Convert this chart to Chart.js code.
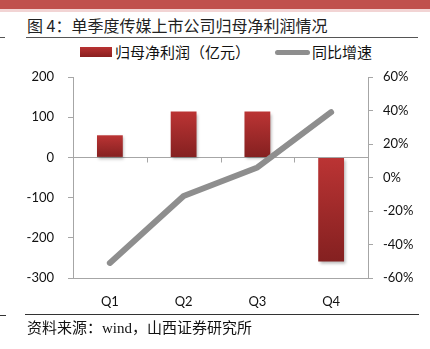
<!DOCTYPE html>
<html>
<head>
<meta charset="utf-8">
<script src="https://cdn.jsdelivr.net/npm/chart.js@4"></script>
<style>
  html, body { margin: 0; padding: 0; background: #fff; }
  #wrap { position: relative; width: 430px; height: 349px; overflow: hidden; background: #fff; }
  canvas { position: absolute; left: 0; top: 0; }
  .abs { position: absolute; white-space: nowrap; }
  .cjk { font-family: "Noto Sans CJK SC", "Noto Sans", sans-serif; color: #111; }
</style>
</head>
<body>
<div id="wrap">
  <div class="abs" style="left:0;top:0;width:430px;height:9px;background:#c0504d;"></div>
  <div class="abs" style="left:0;top:9px;width:430px;height:3px;background:#f2d4d4;"></div>
  <div class="abs cjk" style="left:27px;top:13px;font-size:16px;line-height:24px;color:#222;">图&nbsp;4：单季度传媒上市公司归母净利润情况</div>
  <div class="abs" style="left:0;top:37px;width:5px;height:1px;background:#555;"></div>
  <div class="abs" style="left:26px;top:37px;width:392px;height:1px;background:#555;"></div>

  <div class="abs" style="left:80px;top:47px;width:32px;height:10px;background:linear-gradient(#b83232,#8a2020);"></div>
  <div class="abs cjk" style="left:115px;top:42px;font-size:15px;line-height:20px;">归母净利润（亿元）</div>
  <div class="abs" style="left:275px;top:50px;width:35px;height:5px;border-radius:3px;background:#8e8e8e;"></div>
  <div class="abs cjk" style="left:312px;top:42px;font-size:15px;line-height:20px;">同比增速</div>

  <canvas id="c" width="430" height="349"></canvas>

  <div class="abs" style="left:0;top:315px;width:6px;height:1px;background:#333;"></div>
  <div class="abs" style="left:25px;top:314px;width:394px;height:1px;background:#333;"></div>
  <div class="abs cjk" style="left:27px;top:316px;font-size:15px;line-height:22px;">资料来源：<span style="font-family:'Liberation Serif',serif;">wind</span>，山西证券研究所</div>
</div>
<script>
const categories = ["Q1", "Q2", "Q3", "Q4"];
const netProfit = [55, 114, 114, -259];       // 归母净利润（亿元）
const growthRate = [-51, -11, 6, 39];          // 同比增速 (%)
const leftTicks = [-300, -200, -100, 0, 100, 200];
const rightTicks = [-60, -40, -20, 0, 20, 40, 60];

const AXIS = "#a6a6a6";
const TICKFONT = { family: "Lato, 'Open Sans', sans-serif", size: 13 };

function barGradient(ctx) {
  const chart = ctx.chart;
  const y = chart.scales && chart.scales.y;
  if (!chart.chartArea || !y || ctx.parsed === undefined) return "#a02a2a";
  const v = ctx.parsed.y;
  const p1 = y.getPixelForValue(Math.max(v, 0));
  const p2 = y.getPixelForValue(Math.min(v, 0));
  const g = chart.ctx.createLinearGradient(0, p1, 0, p2);
  g.addColorStop(0, "#bb3434");
  g.addColorStop(1, "#842020");
  return g;
}

const extras = {
  id: "extras",
  beforeDatasetDraw(chart, args) {
    if (args.meta.type === "bar") {
      const c = chart.ctx;
      c.save();
      c.shadowColor = "rgba(0,0,0,0.28)";
      c.shadowBlur = 3;
      c.shadowOffsetX = 1.5;
      c.shadowOffsetY = 2;
    }
  },
  afterDatasetDraw(chart, args) {
    if (args.meta.type === "bar") chart.ctx.restore();
  },
  afterDraw(chart) {
    const x = chart.scales.x, y = chart.scales.y, c = chart.ctx;
    const y0 = Math.round(y.getPixelForValue(0)) + 0.5;
    c.save();
    c.strokeStyle = AXIS;
    c.lineWidth = 1;
    for (let i = 1; i < categories.length; i++) {
      const px = Math.round((x.getPixelForTick(i - 1) + x.getPixelForTick(i)) / 2) + 0.5;
      c.beginPath();
      c.moveTo(px, y0);
      c.lineTo(px, y0 + 5);
      c.stroke();
    }
    c.restore();
  }
};

new Chart(document.getElementById("c"), {
  data: {
    labels: categories,
    datasets: [
      {
        type: "line",
        label: "同比增速",
        data: growthRate,
        yAxisID: "y1",
        borderColor: "#8e8e8e",
        borderWidth: 6,
        borderCapStyle: "round",
        borderJoinStyle: "round",
        pointRadius: 0,
        tension: 0,
        order: 0
      },
      {
        type: "bar",
        label: "归母净利润（亿元）",
        data: netProfit,
        yAxisID: "y",
        backgroundColor: barGradient,
        barPercentage: 0.35,
        categoryPercentage: 1,
        order: 1
      }
    ]
  },
  plugins: [extras],
  options: {
    responsive: false,
    devicePixelRatio: 1,
    animation: false,
    layout: { padding: { top: 77, bottom: 31, left: 0, right: 0 } },
    plugins: { legend: { display: false }, title: { display: false }, tooltip: { enabled: false } },
    scales: {
      x: {
        offset: true,
        grid: { display: false, drawTicks: false },
        border: { display: true, color: AXIS, width: 1 },
        ticks: { color: "#111", font: TICKFONT, padding: 16 },
        afterFit(s) { s.height = 40; }
      },
      y: {
        position: "left",
        min: -300, max: 200,
        afterBuildTicks(s) { s.ticks = leftTicks.map(v => ({ value: v })); },
        grid: {
          color: ctx => (ctx.tick && ctx.tick.value === 0) ? AXIS : "rgba(0,0,0,0)",
          tickColor: AXIS,
          tickLength: 5,
          drawOnChartArea: true
        },
        border: { display: true, color: AXIS, width: 1 },
        ticks: { color: "#111", font: TICKFONT, padding: 14 },
        afterFit(s) { s.width = 73; }
      },
      y1: {
        position: "right",
        min: -60, max: 60,
        afterBuildTicks(s) { s.ticks = rightTicks.map(v => ({ value: v })); },
        grid: { drawOnChartArea: false, tickColor: AXIS, tickLength: 5 },
        border: { display: true, color: AXIS, width: 1 },
        ticks: { color: "#111", font: TICKFONT, padding: 10, callback: v => v + "%" },
        afterFit(s) { s.width = 62; }
      }
    }
  }
});
</script>
</body>
</html>
